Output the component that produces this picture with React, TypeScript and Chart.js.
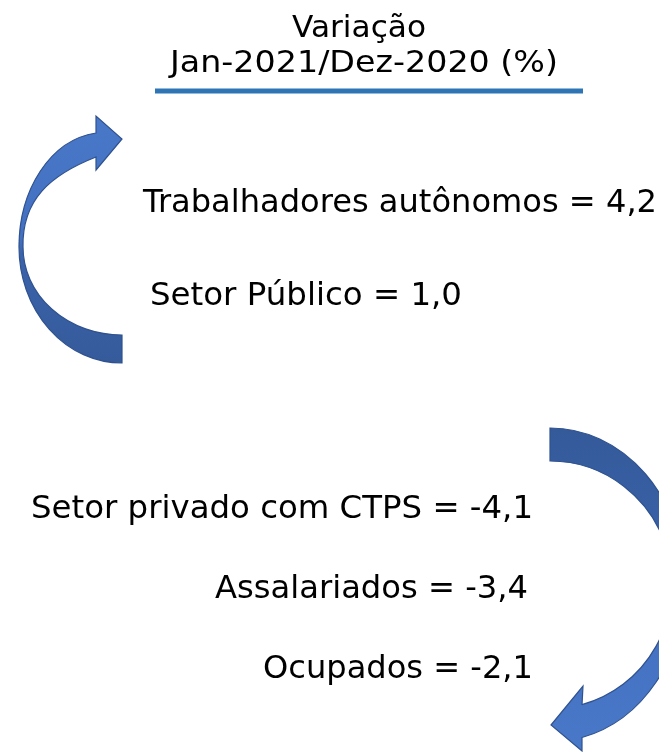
import React, { useEffect, useRef } from "react";
import { Chart, registerables } from "chart.js";

Chart.register(...registerables);

// ---- data ----
const titleLines = ["Variação", "Jan-2021/Dez-2020 (%)"];
const categories = [
  "Trabalhadores autônomos",
  "Setor Público",
  "Setor privado com CTPS",
  "Assalariados",
  "Ocupados",
];
const values = [4.2, 1.0, -4.1, -3.4, -2.1];

// ---- layout (canvas units) ----
const W = 659;
const H = 752;
const FONT = '"DejaVu Sans", Verdana, sans-serif';
const titleAnchors = [
  { x: 292, y: 37, w: 134, size: 31 },
  { x: 170, y: 72, w: 388, size: 31 },
];
const labelAnchors = [
  { x: 143, y: 212, w: 514 },
  { x: 150, y: 305, w: 312 },
  { x: 31, y: 518, w: 502 },
  { x: 215, y: 598, w: 313 },
  { x: 263, y: 678, w: 270 },
];

const fmt = (v: number) => v.toFixed(1).replace(".", ",");

function fitText(ctx: CanvasRenderingContext2D, text: string, x: number, y: number, w: number) {
  const m = ctx.measureText(text).width;
  const sx = w / m;
  ctx.save();
  ctx.translate(x, y);
  ctx.scale(sx, 1);
  ctx.textAlign = "left";
  ctx.fillText(text, 0, 0);
  ctx.restore();
}

const drawingPlugin = {
  id: "infographic",
  afterDraw(chart: any) {
    const ctx: CanvasRenderingContext2D = chart.ctx;
    const xs = chart.scales.x;
    const ys = chart.scales.y;
    const X = (v: number) => xs.getPixelForValue(v);
    const Y = (v: number) => ys.getPixelForValue(v);
    const RX = (r: number) => Math.abs(X(r) - X(0));
    const RY = (r: number) => Math.abs(Y(r) - Y(0));
    const SW = (w: number) => Math.abs(X(w) - X(0));

    ctx.save();
    ctx.fillStyle = "#ffffff";
    ctx.fillRect(0, 0, chart.width, chart.height);

    // title
    ctx.fillStyle = "#000000";
    ctx.textBaseline = "alphabetic";
    titleLines.forEach((t, i) => {
      const a = titleAnchors[i];
      ctx.font = `${a.size}px ${FONT}`;
      fitText(ctx, t, X(a.x), Y(a.y), SW(a.w));
    });

    // underline
    ctx.strokeStyle = "#2E75B6";
    ctx.lineWidth = 5;
    ctx.beginPath();
    ctx.moveTo(X(155), Y(91));
    ctx.lineTo(X(583), Y(91));
    ctx.stroke();

    // left curved arrow (up, pointing right)
    {
      const cx = X(122), cy = Y(247);
      const g = ctx.createLinearGradient(0, Y(115), 0, Y(363));
      g.addColorStop(0, "#4A78C8");
      g.addColorStop(0.5, "#4370C0");
      g.addColorStop(0.56, "#3B63AA");
      g.addColorStop(1, "#355B9B");
      ctx.beginPath();
      ctx.moveTo(X(122), Y(363));
      ctx.ellipse(cx, cy, RX(103), RY(116), 0, Math.PI / 2, Math.PI, false);
      ctx.bezierCurveTo(X(19), Y(190), X(50), Y(140), X(96), Y(133));
      ctx.lineTo(X(96), Y(116));
      ctx.lineTo(X(122), Y(139));
      ctx.lineTo(X(96), Y(170));
      ctx.lineTo(X(96), Y(157));
      ctx.bezierCurveTo(X(50), Y(175), X(22), Y(200), X(23), Y(247));
      ctx.ellipse(cx, cy, RX(99), RY(88), 0, Math.PI, Math.PI / 2, true);
      ctx.closePath();
      ctx.fillStyle = g;
      ctx.fill();
      ctx.strokeStyle = "#2F528F";
      ctx.lineWidth = 1.2;
      ctx.stroke();
    }

    // right curved arrow (down, pointing left)
    {
      const cx = X(550), cy = Y(585);
      const g = ctx.createLinearGradient(0, Y(428), 0, Y(752));
      g.addColorStop(0, "#345A9A");
      g.addColorStop(0.4, "#3A62A8");
      g.addColorStop(0.55, "#4370C0");
      g.addColorStop(1, "#4A78C8");
      ctx.beginPath();
      ctx.moveTo(X(550), Y(428));
      const tOut = Math.acos(32 / 135);
      ctx.ellipse(cx, cy, RX(135), RY(157), 0, -Math.PI / 2, tOut, false);
      ctx.lineTo(X(582), Y(751));
      ctx.lineTo(X(551), Y(725));
      ctx.lineTo(X(583), Y(686));
      ctx.lineTo(X(582), Y(705));
      const tIn = Math.acos(32 / 122);
      ctx.ellipse(cx, cy, RX(122), RY(124), 0, tIn, -Math.PI / 2, true);
      ctx.closePath();
      ctx.fillStyle = g;
      ctx.fill();
      ctx.strokeStyle = "#2F528F";
      ctx.lineWidth = 1.2;
      ctx.stroke();
    }

    // labels
    ctx.fillStyle = "#000000";
    ctx.font = `32px ${FONT}`;
    ctx.textBaseline = "alphabetic";
    categories.forEach((c, i) => {
      const a = labelAnchors[i];
      fitText(ctx, `${c} = ${fmt(values[i])}`, X(a.x), Y(a.y), SW(a.w));
    });
    ctx.restore();
  },
};

export default function App() {
  const ref = useRef<HTMLCanvasElement | null>(null);
  useEffect(() => {
    document.body.style.margin = "0";
    if (!ref.current) return;
    const chart = new Chart(ref.current, {
      type: "scatter",
      data: { datasets: [{ data: values.map((v, i) => ({ x: -1000 - i, y: -1000 })), showLine: false, pointRadius: 0 }] },
      options: {
        responsive: false,
        animation: false,
        layout: { padding: 0 },
        plugins: { legend: { display: false }, tooltip: { enabled: false }, title: { display: false } },
        scales: {
          x: { type: "linear", display: false, min: 0, max: W },
          y: { type: "linear", display: false, min: 0, max: H, reverse: true },
        },
      },
      plugins: [drawingPlugin],
    });
    return () => chart.destroy();
  }, []);
  return <canvas ref={ref} width={W} height={H} style={{ display: "block", width: W, height: H }} />;
}
